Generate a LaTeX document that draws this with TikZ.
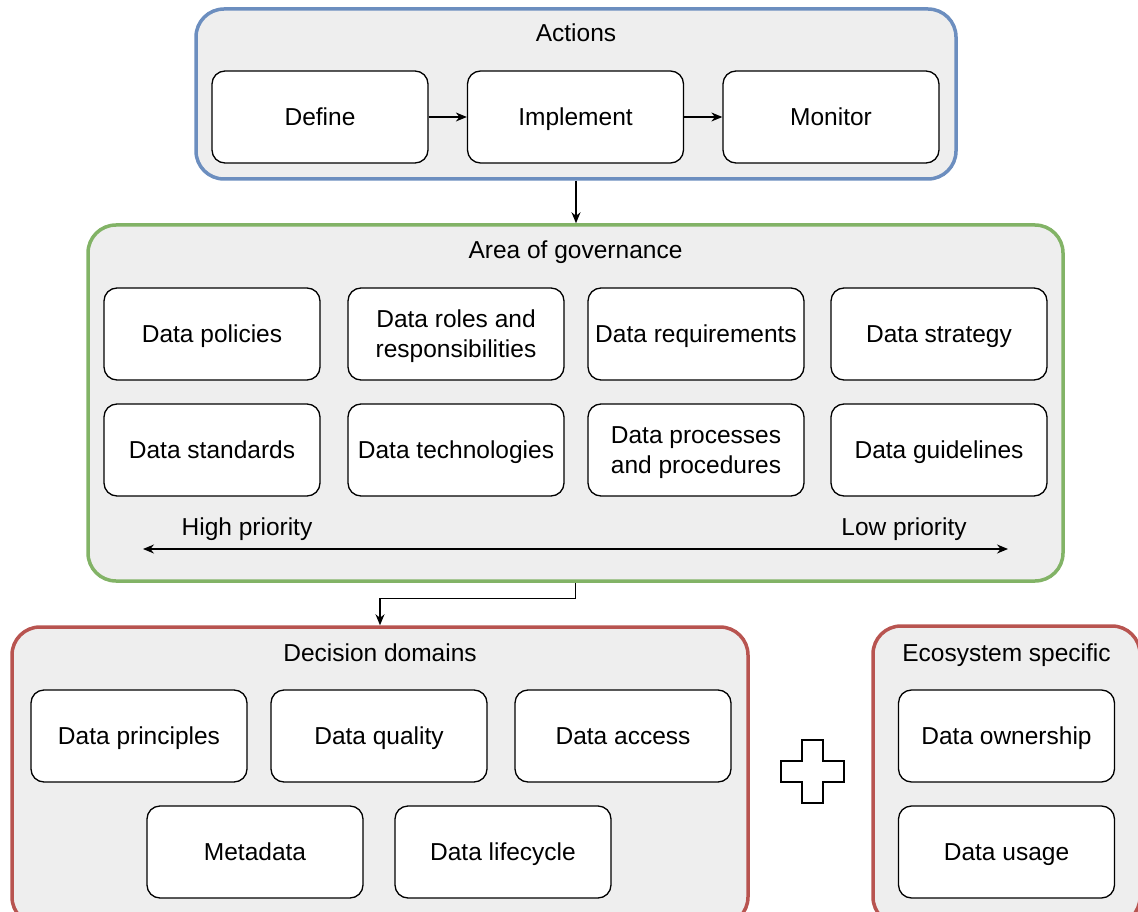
\documentclass[tikz,border=0pt]{standalone}
\usepackage{fontspec}
\setmainfont{Liberation Sans}
\usetikzlibrary{arrows.meta}

\definecolor{panelgray}{HTML}{EEEEEE}
\definecolor{blueline}{HTML}{6C8EBF}
\definecolor{greenline}{HTML}{82B366}
\definecolor{redline}{HTML}{B85450}

\begin{document}
\begin{tikzpicture}[x=1pt, y=-1pt, font=\fontsize{24.5}{30}\selectfont,
  >={Stealth[length=11pt,width=9pt]}]


% GLOBAL SETTINGS
\newcommand{\cellw}{216}
\newcommand{\cellh}{92}
\tikzset{
  grp/.style={draw=#1, line width=3.5pt, fill=panelgray, rounded corners=28pt, inner sep=0pt},
  item/.style={draw, line width=1.3pt, fill=white, rounded corners=13pt,
    minimum width=\cellw pt, minimum height=\cellh pt, align=center, inner sep=2pt,
    text height=17.5pt, text depth=0pt},
  twoline/.style={text height=47.5pt, text depth=0pt},
  grptitle/.style={anchor=base, inner sep=0pt},
  link/.style={->, line width=1.3pt},
}

% FRAME
\useasboundingbox (0,0) rectangle (1138,912);
\clip (0,0) rectangle (1138,912);

% GROUPS
\node[grp=blueline, minimum width=760pt, minimum height=170pt] (Actions) at (576,94) {};
\node[grp=greenline, minimum width=975pt, minimum height=356pt] (Area) at (575.5,403) {};
\node[grp=redline, minimum width=736pt, minimum height=298pt] (Decision) at (380,776) {};
\node[grp=redline, minimum width=267pt, minimum height=299pt] (Eco) at (1006.5,775.5) {};

\node[grptitle] (ActionsT) at (576,41.5) {Actions};
\node[grptitle] (AreaT) at (575.5,258.5) {Area of governance};
\node[grptitle] (DecisionT) at (380,661.5) {Decision domains};
\node[grptitle] (EcoT) at (1006.5,661.5) {Ecosystem specific};

% ACTIONS
\foreach \n/\x/\t in {Define/320/Define, Implement/575.5/Implement, Monitor/831/Monitor} {
  \node[item] (\n) at (\x,117) {\t};
}

% AREA OF GOVERNANCE
\foreach \j/\x/\t in {1/212/Data policies, 3/696/Data requirements, 4/939/Data strategy} {
  \node[item] (A\j) at (\x,334) {\t};
}
\node[item, twoline] (A2) at (456,334) {Data roles and\\responsibilities};
\foreach \j/\x/\t in {5/212/Data standards, 6/456/Data technologies, 8/939/Data guidelines} {
  \node[item] (A\j) at (\x,450) {\t};
}
\node[item, twoline] (A7) at (696,450) {Data processes\\and procedures};
\node[grptitle] (HighP) at (247,535.75) {High priority};
\node[grptitle] (LowP) at (904,535.75) {Low priority};
\coordinate (pL) at (143,549);
\coordinate (pR) at (1008,549);

% DECISION DOMAINS
\foreach \j/\x/\t in {1/139/Data principles, 2/379/Data quality, 3/623/Data access} {
  \node[item] (D\j) at (\x,736) {\t};
}
\node[item] (D4) at (255,852) {Metadata};
\node[item] (D5) at (503,852) {Data lifecycle};

% ECOSYSTEM SPECIFIC
\node[item] (E1) at (1006.5,736) {Data ownership};
\node[item] (E2) at (1006.5,852) {Data usage};

% PLUS
\draw[line width=1.3pt, fill=white] (802,740) -- (823,740) -- (823,761) -- (844,761)
  -- (844,782) -- (823,782) -- (823,803) -- (802,803) -- (802,782) -- (781,782)
  -- (781,761) -- (802,761) -- cycle;

% EDGES
\draw[link] (Define) -- (Implement);
\draw[link] (Implement) -- (Monitor);
\draw[link] (Actions.south) -- (Actions.south |- Area.north);
\draw[link] (Area.south) -- ++(0,16) -| (Decision.north);
\draw[<->, line width=1.3pt] (pL) -- (pR);

\end{tikzpicture}
\end{document}
